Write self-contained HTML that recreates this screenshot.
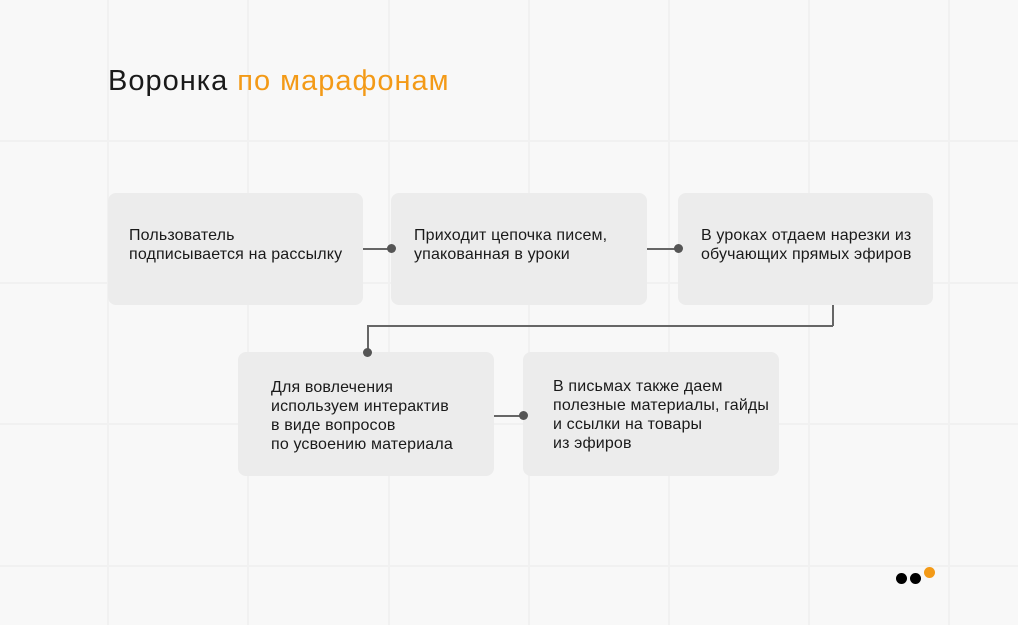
<!DOCTYPE html>
<html><head><meta charset="utf-8"><style>
html,body{margin:0;padding:0}
body{width:1018px;height:625px;position:relative;overflow:hidden;background:#f8f8f8;font-family:"Liberation Sans","DejaVu Sans",sans-serif;color:#1a1a1a}
.v{position:absolute;top:0;width:2px;height:625px;background:#f1f1f1}
.h{position:absolute;left:0;height:2px;width:1018px;background:#f1f1f1}
.b{position:absolute;background:#ececec;border-radius:8px;font-size:16px;line-height:19px;letter-spacing:0.15px;box-sizing:border-box}
.l{position:absolute;background:#666}
.d{position:absolute;width:9px;height:9px;border-radius:50%;background:#555}
</style></head><body>
<div class="v" style="left:107px"></div><div class="v" style="left:247px"></div><div class="v" style="left:388px"></div><div class="v" style="left:528px"></div><div class="v" style="left:668px"></div><div class="v" style="left:808px"></div><div class="v" style="left:948px"></div>
<div class="h" style="top:140px"></div><div class="h" style="top:282px"></div><div class="h" style="top:423px"></div><div class="h" style="top:565px"></div>
<div style="position:absolute;left:108px;top:65px;font-size:29px;letter-spacing:1px">Воронка <span style="color:#f39a17">по марафонам</span></div>

<div class="b" style="left:108px;top:193px;width:255px;height:112px;padding:33px 0 0 21px">Пользователь<br>подписывается на рассылку</div>
<div class="b" style="left:391px;top:193px;width:256px;height:112px;padding:33px 0 0 23px">Приходит цепочка писем,<br>упакованная в уроки</div>
<div class="b" style="left:678px;top:193px;width:255px;height:112px;padding:33px 0 0 23px">В уроках отдаем нарезки из<br>обучающих прямых эфиров</div>
<div class="b" style="left:238px;top:352px;width:256px;height:124px;padding:26px 0 0 33px">Для вовлечения<br>используем интерактив<br>в виде вопросов<br>по усвоению материала</div>
<div class="b" style="left:523px;top:352px;width:256px;height:124px;padding:25px 0 0 30px">В письмах также даем<br>полезные материалы, гайды<br>и ссылки на товары<br>из эфиров</div>

<div class="l" style="left:363px;top:248px;width:28px;height:1.5px"></div><div class="d" style="left:387px;top:244px"></div>
<div class="l" style="left:647px;top:248px;width:31px;height:1.5px"></div><div class="d" style="left:674px;top:244px"></div>
<div class="l" style="left:832px;top:305px;width:1.5px;height:21px"></div>
<div class="l" style="left:367px;top:325px;width:466px;height:1.5px"></div>
<div class="l" style="left:367px;top:325px;width:1.5px;height:25px"></div><div class="d" style="left:363px;top:348px"></div>
<div class="l" style="left:494px;top:415px;width:29px;height:1.5px"></div><div class="d" style="left:519px;top:411px"></div>

<div style="position:absolute;left:896px;top:573px;width:11px;height:11px;border-radius:50%;background:#000"></div>
<div style="position:absolute;left:910px;top:573px;width:11px;height:11px;border-radius:50%;background:#000"></div>
<div style="position:absolute;left:924px;top:567px;width:11px;height:11px;border-radius:50%;background:#f39a17"></div>
</body></html>
